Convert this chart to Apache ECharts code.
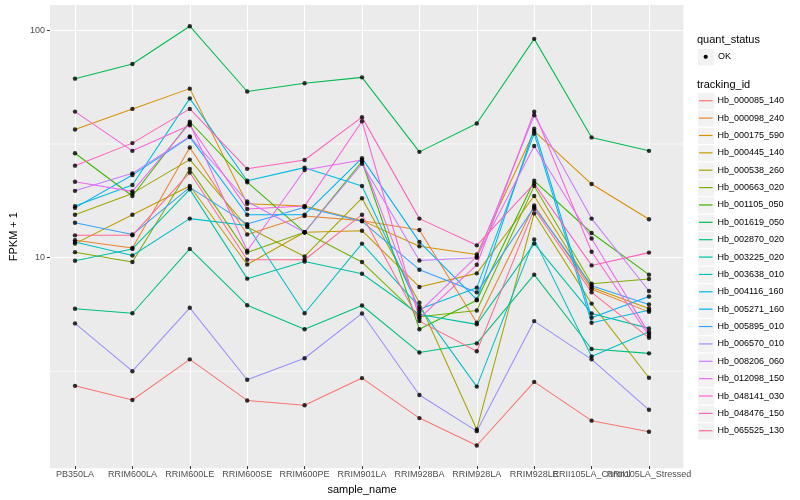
<!DOCTYPE html>
<html><head><meta charset="utf-8">
<script src="https://cdn.jsdelivr.net/npm/echarts@6/dist/echarts.min.js"></script>
<style>html,body{margin:0;padding:0;background:#fff}#c{width:800px;height:500px}</style>
</head><body><div id="c"></div>
<script>
const categories = ['PB350LA','RRIM600LA','RRIM600LE','RRIM600SE','RRIM600PE','RRIM901LA','RRIM928BA','RRIM928LA','RRIM928LE','RRII105LA_Control','RRII105LA_Stressed'];

const Hb_000085_140 = [2.68, 2.32, 3.51, 2.31, 2.20, 2.90, 1.93, 1.46, 2.79, 1.88, 1.68];
const Hb_000098_240 = [11.8, 10.9, 30.3, 12.5, 15.1, 14.4, 13.1, 5.09, 16.8, 7.16, 5.69];
const Hb_000175_590 = [36.4, 44.9, 55.2, 17.1, 16.7, 14.4, 11.1, 10.2, 35.8, 20.9, 14.6];
const Hb_000445_140 = [11.4, 15.3, 20.5, 9.22, 12.8, 13.0, 7.33, 8.42, 18.5, 7.30, 5.89];
const Hb_000538_260 = [15.3, 19.0, 26.8, 13.5, 10.0, 18.1, 6.24, 1.72, 15.5, 6.19, 2.91];
const Hb_000663_020 = [10.45, 9.45, 24.4, 10.4, 12.8, 9.45, 5.41, 5.77, 20.5, 7.58, 7.95];
const Hb_001105_050 = [28.6, 18.5, 39.4, 21.3, 12.8, 26.3, 4.77, 6.40, 21.6, 12.7, 8.31];
const Hb_001619_050 = [61.1, 70.9, 104.2, 53.6, 58.3, 61.9, 29.0, 38.7, 91.6, 33.6, 29.3];
const Hb_002870_020 = [5.87, 5.61, 10.8, 6.09, 4.77, 6.07, 3.76, 4.13, 8.31, 3.90, 3.73];
const Hb_003225_020 = [9.57, 10.8, 19.8, 7.98, 9.50, 8.39, 5.54, 5.01, 11.4, 5.60, 4.81];
const Hb_003638_010 = [11.6, 10.1, 14.7, 13.7, 5.61, 11.4, 5.99, 2.66, 11.9, 3.61, 4.65];
const Hb_004116_160 = [16.7, 20.7, 50.0, 21.6, 24.7, 20.5, 5.84, 7.28, 34.9, 5.09, 5.78];
const Hb_005271_160 = [16.4, 22.9, 33.7, 15.3, 15.3, 27.2, 11.6, 6.45, 36.7, 5.36, 6.65];
const Hb_005895_010 = [14.1, 12.5, 20.2, 13.9, 16.5, 14.3, 8.74, 6.94, 16.5, 7.43, 6.13];
const Hb_006570_010 = [5.06, 3.11, 5.93, 2.85, 3.55, 5.60, 2.44, 1.69, 5.18, 3.51, 2.10];
const Hb_008206_060 = [19.5, 23.3, 33.9, 17.5, 12.8, 25.7, 9.60, 9.87, 42.1, 14.7, 7.04];
const Hb_012098_150 = [21.4, 19.4, 38.7, 10.6, 24.1, 26.7, 5.69, 10.0, 30.8, 12.0, 4.56];
const Hb_048141_030 = [43.7, 29.3, 38.0, 16.2, 16.7, 39.6, 5.32, 9.19, 43.6, 10.5, 4.46];
const Hb_048476_150 = [25.2, 31.7, 44.9, 24.4, 26.7, 41.3, 14.7, 11.2, 21.0, 9.13, 10.4];
const Hb_065525_130 = [12.4, 12.4, 23.5, 9.67, 9.67, 15.3, 5.18, 3.81, 16.2, 6.94, 4.37];

const trackingIds = ['Hb_000085_140','Hb_000098_240','Hb_000175_590','Hb_000445_140','Hb_000538_260','Hb_000663_020','Hb_001105_050','Hb_001619_050','Hb_002870_020','Hb_003225_020','Hb_003638_010','Hb_004116_160','Hb_005271_160','Hb_005895_010','Hb_006570_010','Hb_008206_060','Hb_012098_150','Hb_048141_030','Hb_048476_150','Hb_065525_130'];
const seriesValues = [Hb_000085_140,Hb_000098_240,Hb_000175_590,Hb_000445_140,Hb_000538_260,Hb_000663_020,Hb_001105_050,Hb_001619_050,Hb_002870_020,Hb_003225_020,Hb_003638_010,Hb_004116_160,Hb_005271_160,Hb_005895_010,Hb_006570_010,Hb_008206_060,Hb_012098_150,Hb_048141_030,Hb_048476_150,Hb_065525_130];
const palette = ['#F8766D','#EA8331','#D89000','#C09B00','#A3A500','#7CAE00','#39B600','#00BB4E','#00BF7D','#00C1A3','#00BFC4','#00BAE0','#00B0F6','#35A2FF','#9590FF','#C77CFF','#E76BF3','#FA62DB','#FF62BC','#FF6C91'];

const yTickValues = [10, 100];
const yMinorValues = [3.162, 31.62];
const yMin = 1.184, yMax = 129.3;

const FONT = '"Liberation Sans", Arial, Helvetica, sans-serif';
const chart = echarts.init(document.getElementById('c'), null, {renderer: 'canvas'});

const lineSeries = trackingIds.map((id, i) => ({
  name: id, type: 'line', xAxisIndex: 1, yAxisIndex: 1,
  data: seriesValues[i], symbol: 'none', silent: true, z: 2,
  lineStyle: {color: palette[i], width: 1.05}, itemStyle: {color: palette[i]}
}));
const pointData = [];
seriesValues.forEach(vals => vals.forEach((v, j) => pointData.push([j, v])));
const pointSeries = {
  name: 'OK', type: 'scatter', xAxisIndex: 1, yAxisIndex: 1, data: pointData,
  symbol: 'circle', symbolSize: 4.4, itemStyle: {color: '#000'}, z: 3, silent: true
};
// minor grid lines of the log axis (ggplot minor breaks), drawn across the whole panel
const minorGridSeries = yMinorValues.map((v, k) => ({
  name: 'minor-grid-' + k, type: 'line', xAxisIndex: 0, yAxisIndex: 0,
  data: [[0, v], [1, v]], symbol: 'none', showSymbol: false, silent: true, z: 1,
  lineStyle: {color: '#FFFFFF', width: 0.7}
}));

const keyTop = 92.05, keyStep = 17.37;
const graphics = [];
trackingIds.forEach((id, i) => graphics.push({
  type: 'rect', left: 697, top: keyTop + i * keyStep, z: -1,
  shape: {width: 17.3, height: keyStep}, style: {fill: '#F2F2F2', stroke: '#fff', lineWidth: 1}
}));
graphics.push({type: 'rect', left: 697, top: 48, z: -1, shape: {width: 17.3, height: 17.37}, style: {fill: '#F2F2F2', stroke: '#fff', lineWidth: 1}});
graphics.push({type: 'circle', left: 703.6, top: 54.7, shape: {r: 2.1}, style: {fill: '#000'}});
graphics.push({type: 'text', left: 697, top: 34.5, style: {text: 'quant_status', font: '11px ' + FONT, fill: '#000'}});
graphics.push({type: 'text', left: 718, top: 52, style: {text: 'OK', font: '9px ' + FONT, fill: '#000'}});
graphics.push({type: 'text', left: 697, top: 79, style: {text: 'tracking_id', font: '11px ' + FONT, fill: '#000'}});

const option = {
  animation: false,
  backgroundColor: '#fff',
  textStyle: {fontFamily: FONT},
  grid: [
    {left: 40.6, right: 116.6, top: 5, bottom: 31.7, show: true, backgroundColor: '#EBEBEB', borderWidth: 0},
    {left: 75, right: 151, top: 5, bottom: 31.7}
  ],
  xAxis: [
    {gridIndex: 0, type: 'value', min: 0, max: 1,
     axisLine: {show: false}, axisTick: {show: false}, axisLabel: {show: false}, splitLine: {show: false}},
    {gridIndex: 1, type: 'category', data: categories, boundaryGap: false,
     axisLine: {show: false},
     axisTick: {show: true, length: 3, lineStyle: {color: '#333', width: 1}},
     axisLabel: {interval: 0, hideOverlap: false, fontSize: 9, color: '#4D4D4D', margin: 4, fontFamily: FONT},
     splitLine: {show: true, lineStyle: {color: '#fff', width: 1.1}},
     name: 'sample_name', nameLocation: 'middle', nameGap: 14,
     nameTextStyle: {fontSize: 11, color: '#000', fontFamily: FONT}}
  ],
  yAxis: [
    {gridIndex: 0, type: 'log', logBase: 10, min: yMin, max: yMax,
     axisLine: {show: false},
     axisTick: {show: true, length: 3, lineStyle: {color: '#333', width: 1}, customValues: yTickValues},
     axisLabel: {fontSize: 9, color: '#4D4D4D', margin: 5, customValues: yTickValues, fontFamily: FONT},
     splitLine: {show: true, lineStyle: {color: '#fff', width: 1.1}},
     name: 'FPKM + 1', nameLocation: 'middle', nameGap: 24,
     nameTextStyle: {fontSize: 11, color: '#000', fontFamily: FONT}},
    {gridIndex: 1, type: 'log', logBase: 10, min: yMin, max: yMax, show: false}
  ],
  legend: {
    data: trackingIds.map((id, i) => ({name: id, icon: 'rect', itemStyle: {color: palette[i]}})),
    orient: 'vertical', left: 699, top: keyTop, padding: 0, itemGap: 0,
    itemWidth: 13.5, itemHeight: 1.2, selectedMode: false,
    textStyle: {fontSize: 9, color: '#000', lineHeight: keyStep, fontFamily: FONT}
  },
  graphic: graphics,
  series: minorGridSeries.concat(lineSeries, [pointSeries])
};
chart.setOption(option);
</script></body></html>
